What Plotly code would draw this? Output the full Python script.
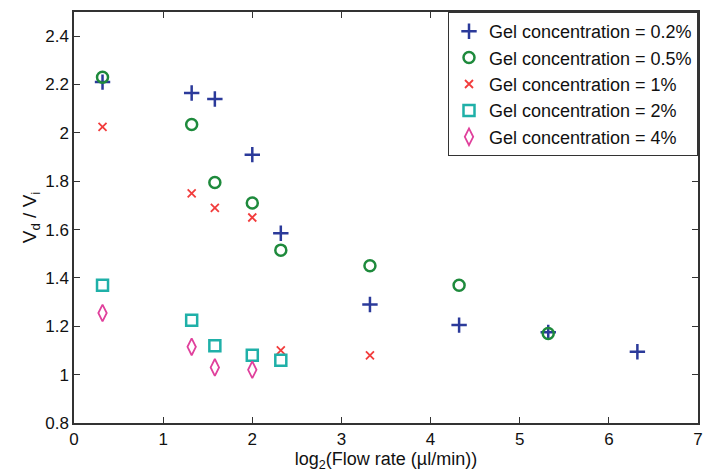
import plotly.graph_objects as go

# Data (x = log2 of flow rate)
x_02 = [0.32, 1.32, 1.58, 2.0, 2.32, 3.32, 4.32, 5.32, 6.32]
y_02 = [2.21, 2.165, 2.14, 1.91, 1.585, 1.29, 1.205, 1.175, 1.095]

x_05 = [0.32, 1.32, 1.58, 2.0, 2.32, 3.32, 4.32, 5.32]
y_05 = [2.23, 2.035, 1.795, 1.71, 1.515, 1.45, 1.37, 1.17]

x_1 = [0.32, 1.32, 1.58, 2.0, 2.32, 3.32]
y_1 = [2.025, 1.75, 1.69, 1.65, 1.10, 1.08]

x_2 = [0.32, 1.32, 1.58, 2.0, 2.32]
y_2 = [1.37, 1.225, 1.12, 1.08, 1.06]

x_4 = [0.32, 1.32, 1.58, 2.0]
y_4 = [1.255, 1.115, 1.03, 1.02]

names = ["Gel concentration = 0.2%", "Gel concentration = 0.5%",
         "Gel concentration = 1%", "Gel concentration = 2%",
         "Gel concentration = 4%"]

series = [
    (x_02, y_02, "cross-thin-open", "#2b3a9a", 11, 2.5),
    (x_05, y_05, "circle-open", "#1e8a3c", 11, 2.5),
    (x_1, y_1, "x-thin-open", "#f23c3c", 8, 1.8),
    (x_2, y_2, "square-open", "#1fb0a8", 11, 2.5),
    (x_4, y_4, "diamond-tall-open", "#e0409c", 12, 1.8),
]

fig = go.Figure()
for (xs, ys, sym, col, sz, lw), nm in zip(series, names):
    fig.add_trace(go.Scatter(
        x=xs, y=ys, mode="markers", name=nm,
        marker=dict(symbol=sym, size=sz, color=col,
                    line=dict(color=col, width=lw)),
    ))

axis_common = dict(
    showgrid=False, zeroline=False, showline=True, mirror="ticks",
    linecolor="#333333", linewidth=1.5, ticks="inside", ticklen=6,
    tickcolor="#333333", tickfont=dict(family="Liberation Sans, Arial", size=17, color="#111111"),
)

fig.update_layout(
    width=711, height=476,
    margin=dict(l=74, r=8, t=12, b=53),
    paper_bgcolor="white", plot_bgcolor="white",
    font=dict(family="Liberation Sans, Arial", color="#111111"),
    xaxis=dict(range=[0, 7], dtick=1, tick0=0,
               title=dict(text="log<sub>2</sub>(Flow rate (µl/min))",
                          font=dict(size=18), standoff=2),
               **axis_common),
    yaxis=dict(range=[0.8, 2.5], tickvals=[0.8, 1, 1.2, 1.4, 1.6, 1.8, 2, 2.2, 2.4],
               ticktext=["0.8", "1", "1.2", "1.4", "1.6", "1.8", "2", "2.2", "2.4"],
               title=dict(text="V<sub>d</sub> / V<sub>i</sub>", font=dict(size=19), standoff=4),
               **axis_common),
    legend=dict(x=1, xanchor="right", y=1, yanchor="top",
                bordercolor="#333333", borderwidth=1, bgcolor="white",
                font=dict(size=18), itemwidth=30, tracegroupgap=0),
    showlegend=True,
)

fig.write_html("out.html")
